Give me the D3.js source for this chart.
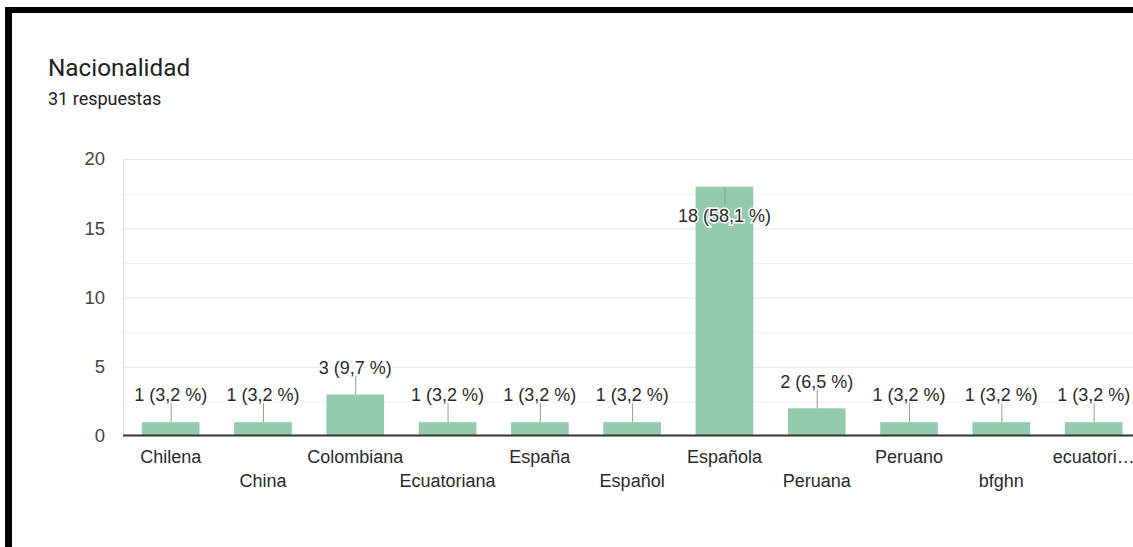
<!DOCTYPE html>
<html>
<head>
<meta charset="utf-8">
<script src="https://cdn.jsdelivr.net/npm/d3@7"></script>
<style>
  html, body { margin: 0; padding: 0; background: #fff; overflow: hidden; }
  svg { display: block; }
</style>
</head>
<body>
<svg id="chart" width="1133" height="547"></svg>
<script>
// data
var title = "Nacionalidad";
var subtitle = "31 respuestas";
var categories = ["Chilena", "China", "Colombiana", "Ecuatoriana", "España", "Español",
                  "Española", "Peruana", "Peruano", "bfghn", "ecuatori…"];
var counts = [1, 1, 3, 1, 1, 1, 18, 2, 1, 1, 1];
var percents = ["3,2", "3,2", "9,7", "3,2", "3,2", "3,2", "58,1", "6,5", "3,2", "3,2", "3,2"];
var yTicks = [0, 5, 10, 15, 20];
var yGrid = [2.5, 7.5, 12.5, 17.5];

var svg = d3.select("#chart");
var plotLeft = 123, plotTop = 159, plotBottom = 436, step = 92.3;
var font = "Arial, 'Liberation Sans', sans-serif";

// frame (black border top and left)
svg.append("rect").attr("x", 5).attr("y", 7).attr("width", 1128).attr("height", 6).attr("fill", "#000");
svg.append("rect").attr("x", 5).attr("y", 7).attr("width", 7).attr("height", 540).attr("fill", "#000");

svg.append("text").attr("x", 48).attr("y", 76)
  .style("font-family", "Roboto, sans-serif").style("font-size", "24.3px").attr("fill", "#202124")
  .text(title);
svg.append("text").attr("x", 48).attr("y", 105)
  .style("font-family", "Roboto, sans-serif").style("font-size", "18px").attr("fill", "#202124")
  .text(subtitle);

var x = d3.scaleBand()
  .domain(categories)
  .range([plotLeft + 1.5, plotLeft + 1.5 + step * categories.length])
  .paddingInner(0.375)
  .paddingOuter(0.1875);

var y = d3.scaleLinear()
  .domain([0, 20])
  .range([plotBottom, plotTop]);

// gridlines
svg.append("g").selectAll("line").data(yGrid).enter().append("line")
  .attr("x1", plotLeft).attr("x2", 1133)
  .attr("y1", d => y(d) + 0.5).attr("y2", d => y(d) + 0.5)
  .attr("stroke", "#f1f1f1");
svg.append("g").selectAll("line").data(yTicks.slice(1)).enter().append("line")
  .attr("x1", plotLeft).attr("x2", 1133)
  .attr("y1", d => y(d) + 0.5).attr("y2", d => y(d) + 0.5)
  .attr("stroke", "#e6e6e6");
svg.append("line").attr("x1", plotLeft + 0.5).attr("x2", plotLeft + 0.5)
  .attr("y1", plotTop).attr("y2", plotBottom).attr("stroke", "#e6e6e6");

// y axis labels
var yAxis = svg.append("g")
  .attr("transform", "translate(" + (plotLeft - 18) + ",0)")
  .call(d3.axisLeft(y).tickValues(yTicks).tickSize(0).tickPadding(0));
yAxis.select(".domain").remove();
yAxis.selectAll("text")
  .style("font-family", font).style("font-size", "18.5px").attr("fill", "#444");

// bars
svg.append("g").selectAll("rect").data(counts).enter().append("rect")
  .attr("x", (d, i) => x(categories[i]))
  .attr("y", d => y(d))
  .attr("width", x.bandwidth())
  .attr("height", d => plotBottom - y(d))
  .attr("fill", "#95cbad");

// baseline
svg.append("line").attr("x1", plotLeft).attr("x2", 1133)
  .attr("y1", plotBottom - 0.5).attr("y2", plotBottom - 0.5)
  .attr("stroke", "#333").attr("stroke-width", 2);

// x axis labels, staggered in two rows
var xAxis = svg.append("g")
  .attr("transform", "translate(0," + plotBottom + ")")
  .call(d3.axisBottom(x).tickSize(0).tickPadding(0));
xAxis.select(".domain").remove();
xAxis.selectAll("text")
  .attr("y", (d, i) => i % 2 === 0 ? 27 : 51)
  .attr("dy", 0)
  .style("font-family", font).style("font-size", "18px").attr("fill", "#2a2a2a");

// value labels with leader lines
var labels = svg.append("g").selectAll("g").data(counts).enter().append("g");
labels.each(function (d, i) {
  var g = d3.select(this);
  var cx = x(categories[i]) + x.bandwidth() / 2;
  var yt = y(d);
  var above = yt - 36 > plotTop;
  var y1 = above ? yt - 19 : yt + 18;
  var ty = above ? yt - 27 : yt + 29;
  g.append("line").attr("x1", cx + 0.5).attr("x2", cx + 0.5)
    .attr("y1", yt).attr("y2", y1).attr("stroke", "#999");
  g.append("text").attr("x", cx).attr("y", ty).attr("dy", "0.35em")
    .attr("text-anchor", "middle")
    .style("font-family", font).style("font-size", "18px")
    .attr("fill", "#2a2a2a").attr("stroke", "#fff").attr("stroke-width", 3)
    .attr("paint-order", "stroke")
    .text(d + " (" + percents[i] + " %)");
});
</script>
</body>
</html>
